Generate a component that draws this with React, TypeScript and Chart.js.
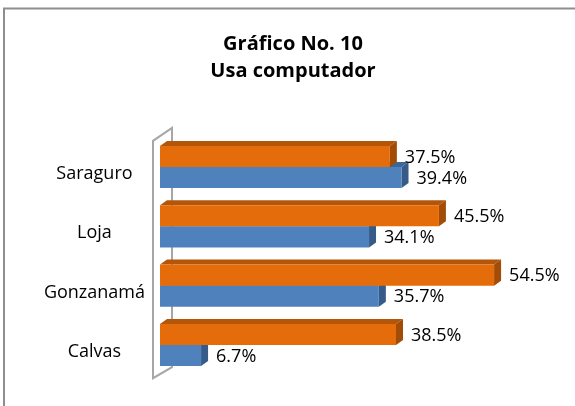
import React, { useEffect, useRef } from "react";
import { Chart, registerables } from "chart.js";

Chart.register(...registerables);

const categories = ["Saraguro", "Loja", "Gonzanamá", "Calvas"];
const seriesOrange = [37.5, 45.5, 54.5, 38.5];
const seriesBlue = [39.4, 34.1, 35.7, 6.7];
const titleLines = ["Gráfico No. 10", "Usa computador"];

const FONT = "'Open Sans', 'DejaVu Sans', sans-serif";

const faceColors = [
  { top: "#B4560A", side: "#A34C07" },
  { top: "#3D6799", side: "#375B88" },
];

const DX = 7;
const DY = -5;

const frame3d = {
  id: "frame3d",
  beforeDraw(chart: any) {
    const { ctx, width, height } = chart;
    ctx.save();
    ctx.fillStyle = "#ffffff";
    ctx.fillRect(0, 0, width, height);
    ctx.strokeStyle = "#8e8e8e";
    ctx.lineWidth = 2;
    ctx.beginPath();
    ctx.moveTo(4, height + 2);
    ctx.lineTo(4, 8.5);
    ctx.lineTo(width + 2, 8.5);
    ctx.stroke();
    ctx.restore();
  },
  beforeDatasetsDraw(chart: any) {
    const { ctx, chartArea: ca } = chart;
    ctx.save();
    // wall
    const fx = ca.left - 7;
    const bx = ca.left + 12;
    ctx.strokeStyle = "#a6a6a6";
    ctx.lineWidth = 2;
    ctx.beginPath();
    ctx.moveTo(fx, ca.bottom + 3.5);
    ctx.lineTo(fx, ca.top + 3.5);
    ctx.lineTo(bx, ca.top - 9.5);
    ctx.lineTo(bx, ca.bottom - 7.5);
    ctx.closePath();
    ctx.stroke();
    // 3D faces, last dataset first
    for (let di = chart.data.datasets.length - 1; di >= 0; di--) {
      const meta = chart.getDatasetMeta(di);
      const col = faceColors[di];
      meta.data.forEach((el: any) => {
        const { x, y, base, height } = el.getProps(["x", "y", "base", "height"], true);
        const t = y - height / 2;
        const b = y + height / 2;
        ctx.fillStyle = col.top;
        ctx.beginPath();
        ctx.moveTo(base, t);
        ctx.lineTo(base + DX, t + DY);
        ctx.lineTo(x + DX, t + DY);
        ctx.lineTo(x, t);
        ctx.closePath();
        ctx.fill();
        ctx.fillStyle = col.side;
        ctx.beginPath();
        ctx.moveTo(x, t);
        ctx.lineTo(x + DX, t + DY);
        ctx.lineTo(x + DX, b + DY);
        ctx.lineTo(x, b);
        ctx.closePath();
        ctx.fill();
      });
    }
    ctx.restore();
  },
  afterDatasetsDraw(chart: any) {
    const { ctx } = chart;
    ctx.save();
    ctx.font = `18px ${FONT}`;
    ctx.fillStyle = "#000000";
    ctx.textAlign = "left";
    ctx.textBaseline = "middle";
    chart.data.datasets.forEach((ds: any, di: number) => {
      const meta = chart.getDatasetMeta(di);
      meta.data.forEach((el: any, i: number) => {
        const { x, y } = el.getProps(["x", "y"], true);
        ctx.fillText(ds.data[i].toFixed(1) + "%", x + 15, y + 1);
      });
    });
    ctx.restore();
  },
};

export default function App() {
  const ref = useRef<HTMLCanvasElement>(null);
  useEffect(() => {
    document.body.style.margin = "0";
    const chart = new Chart(ref.current as HTMLCanvasElement, {
      type: "bar",
      data: {
        labels: categories,
        datasets: [
          {
            label: "Serie 1",
            data: seriesOrange,
            backgroundColor: "#E46C0A",
            borderWidth: 0,
            categoryPercentage: 0.71,
            barPercentage: 1,
          },
          {
            label: "Serie 2",
            data: seriesBlue,
            backgroundColor: "#4F81BD",
            borderWidth: 0,
            categoryPercentage: 0.71,
            barPercentage: 1,
          },
        ],
      },
      options: {
        indexAxis: "y",
        animation: false,
        responsive: false,
        layout: { padding: { left: 11, right: 0, top: 0, bottom: 31.3 } },
        plugins: {
          legend: { display: false },
          tooltip: { enabled: false },
          title: {
            display: true,
            text: titleLines,
            color: "#000000",
            font: { family: FONT, size: 20, weight: "bold", lineHeight: 1.35 },
            padding: { top: 30.5, bottom: 52.8 },
          },
        },
        scales: {
          x: { display: false, min: 0, max: 67.7 },
          y: {
            grid: { display: false },
            border: { display: false },
            afterFit: (scale: any) => {
              scale.width = 149;
            },
            ticks: {
              color: "#000000",
              font: { family: FONT, size: 18 },
              crossAlign: "center",
              padding: 7,
              labelOffset: 7,
            },
          },
        },
      },
      plugins: [frame3d],
    });
    return () => chart.destroy();
  }, []);
  return <canvas ref={ref} width={575} height={406} />;
}
